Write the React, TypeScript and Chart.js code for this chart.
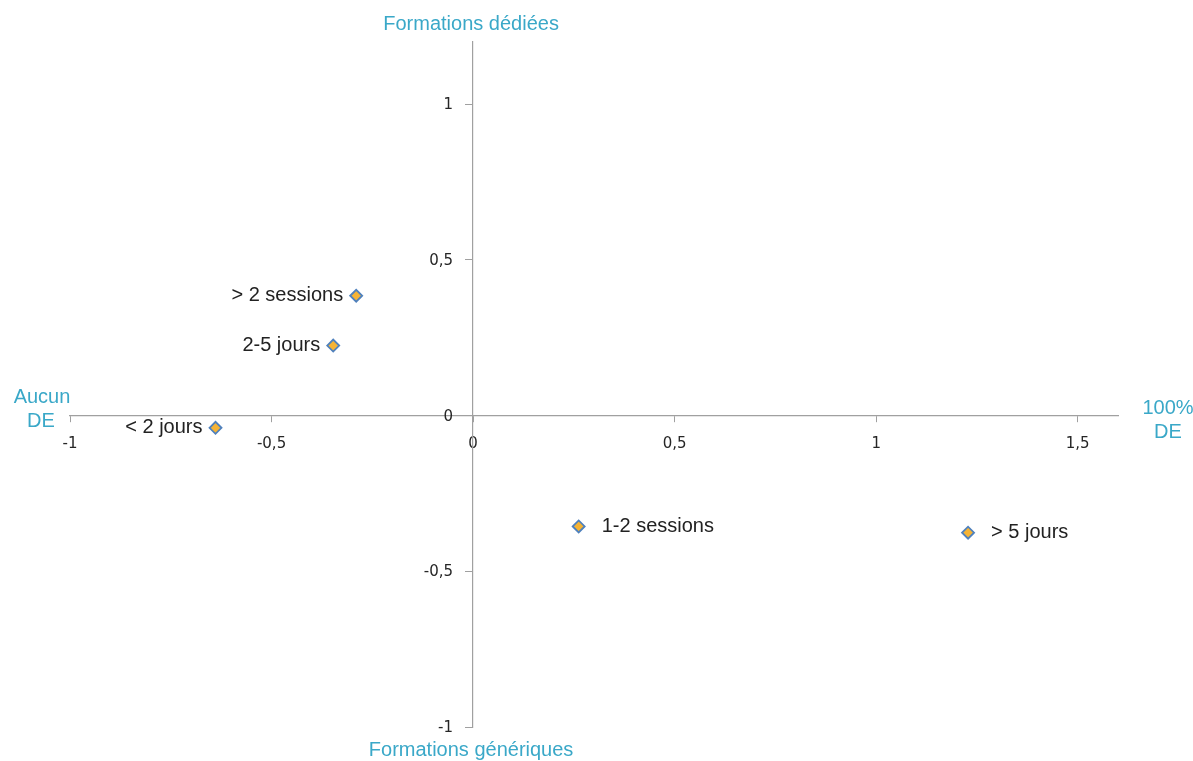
import React, { useEffect, useRef } from "react";
import { Chart, registerables } from "chart.js";

Chart.register(...registerables);

const pointLabels = ["> 2 sessions", "2-5 jours", "< 2 jours", "1-2 sessions", "> 5 jours"];
const xValues = [-0.29, -0.347, -0.639, 0.262, 1.228];
const yValues = [0.385, 0.225, -0.039, -0.356, -0.376];
const labelSide = ["left", "left", "left", "right", "right"];

const xMin = -1;
const xMax = 1.6;
const yMin = -1;
const yMax = 1.2;
const tickStep = 0.5;

const titleTop = "Formations dédiées";
const titleBottom = "Formations génériques";
const titleLeft = ["Aucun", "DE"];
const titleRight = ["100%", "DE"];

const FONT = "'Liberation Sans', Arial, sans-serif";
const TICK_FONT = "'DejaVu Sans', sans-serif";
const TEAL = "#3AA8C8";
const TICK_COLOR = "#262626";

const fmt = (v: number) => String(v).replace(".", ",");

const labelPlugin = {
  id: "labelPlugin",
  afterDatasetsDraw(chart: any) {
    const ctx = chart.ctx;
    const meta = chart.getDatasetMeta(0);
    const xs = chart.scales.x;
    const ys = chart.scales.y;
    const area = chart.chartArea;
    const cx = xs.getPixelForValue(0);
    const cy = ys.getPixelForValue(0);
    ctx.save();
    // y tick labels (from the library's own ticks)
    ctx.font = `15px ${TICK_FONT}`;
    ctx.fillStyle = TICK_COLOR;
    ctx.textAlign = "right";
    ctx.textBaseline = "middle";
    ys.ticks.forEach((t: any) => {
      ctx.fillText(fmt(t.value), cx - 20, ys.getPixelForValue(t.value) + 1);
    });
    // point labels
    ctx.font = `20px ${FONT}`;
    ctx.fillStyle = "#222222";
    meta.data.forEach((el: any, i: number) => {
      const side = labelSide[i];
      if (side === "left") {
        ctx.textAlign = "right";
        ctx.fillText(pointLabels[i], el.x - 13, el.y);
      } else {
        ctx.textAlign = "left";
        ctx.fillText(pointLabels[i], el.x + 23, el.y);
      }
    });
    // axis titles
    ctx.fillStyle = TEAL;
    ctx.font = `20px ${FONT}`;
    ctx.textAlign = "center";
    ctx.fillText(titleTop, cx - 2, area.top - 18);
    ctx.fillText(titleBottom, cx - 2, area.bottom + 23);
    ctx.fillText(titleLeft[0], 42, cy - 18);
    ctx.fillText(titleLeft[1], 41, cy + 6);
    ctx.fillText(titleRight[0], 1168, cy - 7);
    ctx.fillText(titleRight[1], 1168, cy + 17);
    ctx.restore();
  },
};

export default function App() {
  const ref = useRef<HTMLCanvasElement>(null);
  useEffect(() => {
    if (!ref.current) return;
    const chart = new Chart(ref.current, {
      type: "scatter",
      data: {
        datasets: [
          {
            data: xValues.map((x, i) => ({ x, y: yValues[i] })),
            pointStyle: "rectRot",
            pointRadius: 6,
            pointBackgroundColor: "#F5B335",
            pointBorderColor: "#4F81BD",
            pointBorderWidth: 1.8,
          },
        ],
      },
      options: {
        animation: false,
        responsive: true,
        maintainAspectRatio: false,
        layout: { padding: { left: 70, right: 75, top: 42, bottom: 34 } },
        plugins: { legend: { display: false }, tooltip: { enabled: false } },
        scales: {
          x: {
            type: "linear",
            min: xMin,
            max: xMax,
            position: { y: 0 } as any,
            grid: { drawOnChartArea: false, drawTicks: true, tickLength: 6, color: "#A0A0A0" },
            border: { display: true, color: "#A0A0A0", width: 1.2 },
            ticks: {
              stepSize: tickStep,
              includeBounds: false,
              padding: 13,
              color: TICK_COLOR,
              font: { family: TICK_FONT, size: 15 },
              maxRotation: 0,
              callback: (v: any) => fmt(Number(v)),
            },
          },
          y: {
            type: "linear",
            min: yMin,
            max: yMax,
            position: { x: 0 } as any,
            grid: { drawOnChartArea: false, drawTicks: true, tickLength: 7, color: "#A0A0A0" },
            border: { display: true, color: "#A0A0A0", width: 1.2 },
            ticks: {
              stepSize: tickStep,
              includeBounds: false,
              display: false,
            },
          },
        },
      },
      plugins: [labelPlugin],
    });
    return () => chart.destroy();
  }, []);
  return (
    <div style={{ position: "absolute", left: 0, top: 0, width: 1193, height: 761, background: "#fff" }}>
      <canvas ref={ref} />
    </div>
  );
}
